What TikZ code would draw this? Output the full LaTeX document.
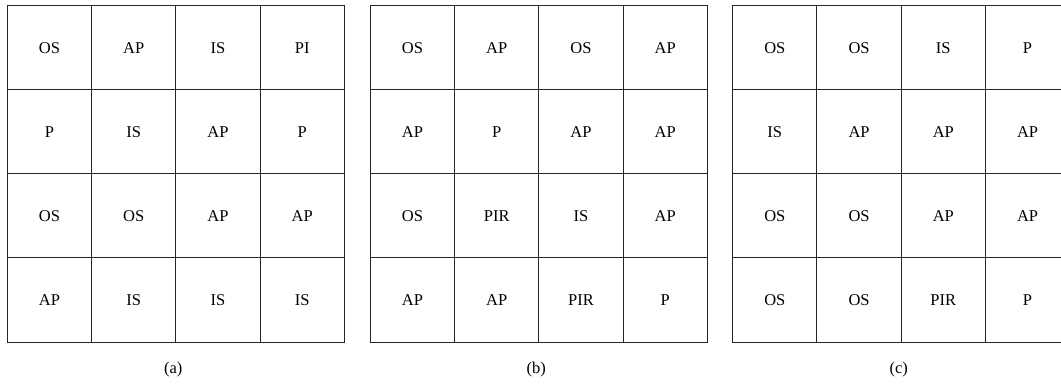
\documentclass[tikz,border=0pt]{standalone}
\usepackage{fontspec}
\setmainfont{Liberation Serif}
\usetikzlibrary{positioning}

\begin{document}
\begin{tikzpicture}[
      x=1pt, y=1pt,
      cell/.style={draw=black!85,line width=1pt,minimum width=84.25pt,minimum height=84.1pt,inner sep=0pt,font=\fontsize{16.5}{19}\selectfont},
      caption/.style={font=\fontsize{16.5}{19}\selectfont},
    ]
    \clip (0,0) rectangle (1061,385);

    % Grid (a)
    \foreach \t [count=\i from 0] in {OS,AP,IS,PI,P,IS,AP,P,OS,OS,AP,AP,AP,IS,IS,IS}
      \node[cell] (a\i) at ({7.3+(mod(\i,4)+0.5)*84.25},{379.3-(int(\i/4)+0.5)*84.1}) {\t};

    % Grid (b)
    \foreach \t [count=\i from 0] in {OS,AP,OS,AP,AP,P,AP,AP,OS,PIR,IS,AP,AP,AP,PIR,P}
      \node[cell] (b\i) at ({370.3+(mod(\i,4)+0.5)*84.25},{379.3-(int(\i/4)+0.5)*84.1}) {\t};

    % Grid (c)
    \foreach \t [count=\i from 0] in {OS,OS,IS,P,IS,AP,AP,AP,OS,OS,AP,AP,OS,OS,PIR,P}
      \node[cell] (c\i) at ({732.7+(mod(\i,4)+0.5)*84.25},{379.3-(int(\i/4)+0.5)*84.1}) {\t};

    % Captions
    \path (a13.south east) ++(-3,-27) node[caption] (capa) {(a)};
    \path (b13.south east) ++(-3,-27) node[caption] (capb) {(b)};
    \path (c13.south east) ++(-3,-27) node[caption] (capc) {(c)};
  \end{tikzpicture}
\end{document}
